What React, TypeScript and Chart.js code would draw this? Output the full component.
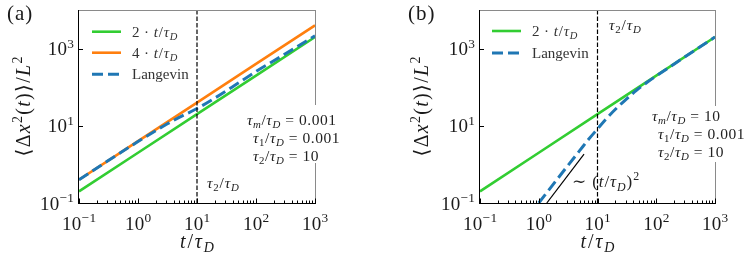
import React, { useEffect, useRef } from "react";
import { Chart, registerables } from "chart.js";
Chart.register(...registerables);

const FONT = '"Liberation Serif", "DejaVu Serif", serif';

// ---------- data ----------
const fitTime = [0.1, 1, 10, 100, 1000];
const twoT = [0.2, 2, 20, 200, 2000];
const fourT = [0.4, 4, 40, 400, 4000];

const langTimeA = [0.1, 0.3, 1, 2, 3, 5, 10, 20, 50, 100, 300, 1000];
const langA = [0.4, 1.2, 3.9, 7.5, 10.8, 16.5, 28, 52, 128, 255, 700, 2150];

const langTimeB = [1, 2, 3, 5, 7, 10, 14, 21, 31, 46, 70, 100, 200, 1000];
const langB = [0.1, 0.39, 0.86, 2.3, 4.4, 8.3, 15, 28.4, 49, 83, 134, 195, 395, 1990];

const slopeTime = [1.37, 5.9];
const slopeVals = [0.1, 1.85];

const tau2Time = [10, 10];
const tau2Span = [0.1, 10000];

const xTicks = [0.1, 1, 10, 100, 1000];
const xTickExp = ["\u22121", "0", "1", "2", "3"];
const yTicks = [0.1, 10, 1000];
const yTickExp = ["\u22121", "1", "3"];
const minorDecades = [0.1, 1, 10, 100];
const minorMult = [2, 3, 4, 5, 6, 7, 8, 9];

const GREEN = "#32cd32";
const ORANGE = "#ff7f0e";
const BLUE = "#1f77b4";

type Run = [string, string];

const LBL_TWO: Run[] = [["2\u2009\u00b7\u2009", "r"], ["t", "i"], ["/", "r"], ["\u03c4", "i"], ["D", "isub"]];
const LBL_FOUR: Run[] = [["4\u2009\u00b7\u2009", "r"], ["t", "i"], ["/", "r"], ["\u03c4", "i"], ["D", "isub"]];
const LBL_LANG: Run[] = [["Langevin", "r"]];
const LBL_TAU2: Run[] = [["\u03c4", "i"], ["2", "sub"], ["/", "r"], ["\u03c4", "i"], ["D", "isub"]];
const LBL_XT: Run[] = [["t", "i"], ["/", "r"], ["\u03c4", "i"], ["D", "isub"]];
const LBL_Y: Run[] = [["\u27e8\u0394", "r"], ["x", "i"], ["2", "sup"], ["(", "r"], ["t", "i"], [")\u27e9/", "r"], ["L", "i"], ["2", "sup"]];
const LBL_SLOPE: Run[] = [["\u223c (", "r"], ["t", "i"], ["/", "r"], ["\u03c4", "i"], ["D", "isub"], [")", "r"], ["2", "sup"]];

const paramLine = (sub: string, subStyle: string, value: string): Run[] => [
  ["\u03c4", "i"], [sub, subStyle], ["/", "r"], ["\u03c4", "i"], ["D", "isub"], [" = " + value, "r"],
];
const PARAMS_A: Run[][] = [paramLine("m", "isub", "0.001"), paramLine("1", "sub", "0.001"), paramLine("2", "sub", "10")];
const PARAMS_B: Run[][] = [paramLine("m", "isub", "10"), paramLine("1", "sub", "0.001"), paramLine("2", "sub", "10")];

// ---------- rich text ----------
function runFont(style: string, size: number) {
  const small = style === "sub" || style === "isub" || style === "sup";
  const italic = style === "i" || style === "isub";
  const s = small ? size * 0.7 : size;
  return `${italic ? "italic " : ""}${s}px ${FONT}`;
}
function runShift(style: string, size: number) {
  if (style === "sub" || style === "isub") return 0.22 * size;
  if (style === "sup") return -0.4 * size;
  return 0;
}
function drawRich(ctx: CanvasRenderingContext2D, runs: Run[], x: number, y: number, size: number, align = "left", color = "#1a1a1a", spacing = 0) {
  ctx.save();
  let total = 0;
  runs.forEach(([t, st]) => {
    ctx.font = runFont(st, size);
    for (const ch of t) total += ctx.measureText(ch).width + spacing;
  });
  total -= spacing;
  let cx = align === "left" ? x : align === "center" ? x - total / 2 : x - total;
  ctx.fillStyle = color;
  ctx.textBaseline = "alphabetic";
  ctx.textAlign = "left";
  runs.forEach(([t, st]) => {
    ctx.font = runFont(st, size);
    for (const ch of t) {
      ctx.fillText(ch, cx, y + runShift(st, size));
      cx += ctx.measureText(ch).width + spacing;
    }
  });
  ctx.restore();
  return total;
}

type Spec = {
  padLeft: number;
  padRight: number;
  tag: string;
  legend: { runs: Run[]; color: string; dash: number[]; width: number }[];
  legendX: number;
  legendY: number[];
  params: Run[][];
  paramX: number[];
  paramY: number[];
  paramBox: [number, number, number, number];
  tauLabel: [number, number];
  slopeLabel?: [number, number];
  yTitleX: number;
};

function decor(p: Spec) {
  return {
    id: "decor",
    afterDatasetsDraw(chart: any) {
      const ctx: CanvasRenderingContext2D = chart.ctx;
      const { left, right, top, bottom } = chart.chartArea;
      const xs = chart.scales.x;
      const ys = chart.scales.y;
      ctx.save();
      ctx.lineWidth = 1;
      // spines
      ctx.strokeStyle = "#8a8a8a";
      ctx.beginPath();
      ctx.moveTo(left, top + 0.5);
      ctx.lineTo(right, top + 0.5);
      ctx.moveTo(right + 0.5, top);
      ctx.lineTo(right + 0.5, bottom);
      ctx.stroke();
      ctx.strokeStyle = "#000";
      ctx.beginPath();
      ctx.moveTo(left - 0.5, top);
      ctx.lineTo(left - 0.5, bottom + 1);
      ctx.moveTo(left - 1, bottom + 0.5);
      ctx.lineTo(right + 1, bottom + 0.5);
      ctx.stroke();
      // ticks
      ctx.beginPath();
      xTicks.forEach((v) => {
        const px = Math.round(xs.getPixelForValue(v)) + 0.5;
        ctx.moveTo(px, bottom);
        ctx.lineTo(px, bottom - 4.5);
      });
      minorDecades.forEach((d) =>
        minorMult.forEach((m) => {
          const px = Math.round(xs.getPixelForValue(d * m)) + 0.5;
          ctx.moveTo(px, bottom);
          ctx.lineTo(px, bottom - 2.5);
        })
      );
      yTicks.forEach((v) => {
        const py = Math.round(ys.getPixelForValue(v)) + 0.5;
        ctx.moveTo(left, py);
        ctx.lineTo(left + 4, py);
      });
      ctx.stroke();
      // tick labels
      xTicks.forEach((v, i) => {
        const px = xs.getPixelForValue(v);
        drawRich(ctx, [["10", "r"], [xTickExp[i], "sup"]], px, 229.5, 19, "center", "#1a1a1a", 0.3);
      });
      yTicks.forEach((v, i) => {
        const py = ys.getPixelForValue(v);
        drawRich(ctx, [["10", "r"], [yTickExp[i], "sup"]], left - 5, py + 6.5, 19, "right", "#1a1a1a", 0.3);
      });
      // axis titles
      drawRich(ctx, LBL_XT, (left + right) / 2, 248, 20, "center", "#1a1a1a", 1.8);
      ctx.save();
      ctx.translate(p.yTitleX, (top + bottom) / 2);
      ctx.rotate(-Math.PI / 2);
      drawRich(ctx, LBL_Y, 0, 0, 20, "center", "#1a1a1a", 1.3);
      ctx.restore();
      // panel tag
      drawRich(ctx, [[p.tag, "r"]], left - 72, 20, 21, "left", "#1a1a1a", 1);
      // legend
      p.legend.forEach((e, i) => {
        const y = p.legendY[i];
        ctx.save();
        ctx.strokeStyle = e.color;
        ctx.lineWidth = e.width;
        ctx.setLineDash(e.dash);
        ctx.beginPath();
        ctx.moveTo(p.legendX, y);
        ctx.lineTo(p.legendX + 29, y);
        ctx.stroke();
        ctx.restore();
        drawRich(ctx, e.runs, p.legendX + 40, y + 5, 15, "left", "#333", e.runs.length > 1 ? 0.8 : 0);
      });
      // params with white box
      const [bx, by, bw, bh] = p.paramBox;
      ctx.fillStyle = "#fff";
      ctx.fillRect(bx, by, bw, bh);
      p.params.forEach((r, i) => drawRich(ctx, r, p.paramX[i], p.paramY[i], 15.5, "left", "#222", 0.55));
      drawRich(ctx, LBL_TAU2, p.tauLabel[0], p.tauLabel[1], 15.5, "left", "#222", 0.8);
      if (p.slopeLabel) drawRich(ctx, LBL_SLOPE, p.slopeLabel[0], p.slopeLabel[1], 17, "left", "#222", 0.9);
      ctx.restore();
    },
  };
}

const pts = (xs: number[], ys: number[]) => xs.map((x, i) => ({ x, y: ys[i] }));

function makeConfig(panel: "a" | "b"): any {
  const vline = {
    data: pts(tau2Time, tau2Span),
    borderColor: "#000",
    borderWidth: 1.2,
    borderDash: [4.5, 2],
    order: 0,
  };
  const green = { data: pts(fitTime, twoT), borderColor: GREEN, borderWidth: 2.6, order: 4 };
  const datasets: any[] = [vline];
  let spec: Spec;
  if (panel === "a") {
    datasets.push(
      { data: pts(langTimeA, langA), borderColor: BLUE, borderWidth: 3, borderDash: [11, 5], cubicInterpolationMode: "monotone", order: 1 },
      { data: pts(fitTime, fourT), borderColor: ORANGE, borderWidth: 2.6, order: 3 },
      green
    );
    spec = {
      padLeft: 79,
      padRight: 59,
      tag: "(a)",
      legend: [
        { runs: LBL_TWO, color: GREEN, dash: [], width: 2.6 },
        { runs: LBL_FOUR, color: ORANGE, dash: [], width: 2.6 },
        { runs: LBL_LANG, color: BLUE, dash: [11, 5], width: 3 },
      ],
      legendX: 92,
      legendY: [31.7, 52.7, 74.3],
      params: PARAMS_A,
      paramX: [247, 253, 253],
      paramY: [125, 143, 160.5],
      paramBox: [243, 105, 100, 58],
      tauLabel: [207, 188],
      yTitleX: 30,
    };
  } else {
    datasets.push(
      { data: pts(slopeTime, slopeVals), borderColor: "#000", borderWidth: 1.2, order: 0 },
      { data: pts(langTimeB, langB), borderColor: BLUE, borderWidth: 3, borderDash: [11, 5], cubicInterpolationMode: "monotone", order: 1 },
      green
    );
    spec = {
      padLeft: 106,
      padRight: 33,
      tag: "(b)",
      legend: [
        { runs: LBL_TWO, color: GREEN, dash: [], width: 2.6 },
        { runs: LBL_LANG, color: BLUE, dash: [11, 5], width: 3 },
      ],
      legendX: 118,
      legendY: [31, 53],
      params: PARAMS_B,
      paramX: [278, 284, 284],
      paramY: [121, 139, 157],
      paramBox: [274, 106, 100, 56],
      tauLabel: [235, 30],
      slopeLabel: [198, 187],
      yTitleX: 54,
    };
  }
  return {
    type: "line",
    data: { datasets },
    options: {
      animation: false,
      responsive: false,
      devicePixelRatio: 1,
      layout: { padding: { left: spec.padLeft, right: spec.padRight, top: 10, bottom: 57 } },
      scales: {
        x: { type: "logarithmic", min: 0.1, max: 1000, display: false },
        y: { type: "logarithmic", min: 0.1, max: 10000, display: false },
      },
      elements: { point: { radius: 0 }, line: { tension: 0, fill: false } },
      plugins: { legend: { display: false }, tooltip: { enabled: false } },
    },
    plugins: [decor(spec)],
  };
}

function Panel({ panel }: { panel: "a" | "b" }) {
  const ref = useRef<HTMLCanvasElement>(null);
  useEffect(() => {
    const chart = new Chart(ref.current!, makeConfig(panel));
    return () => chart.destroy();
  }, [panel]);
  return <canvas ref={ref} width={374} height={260} style={{ display: "block", width: 374, height: 260 }} />;
}

export default function App() {
  return (
    <div style={{ position: "absolute", left: 0, top: 0, width: 748, height: 260, display: "flex", background: "#fff" }}>
      <Panel panel="a" />
      <Panel panel="b" />
    </div>
  );
}
